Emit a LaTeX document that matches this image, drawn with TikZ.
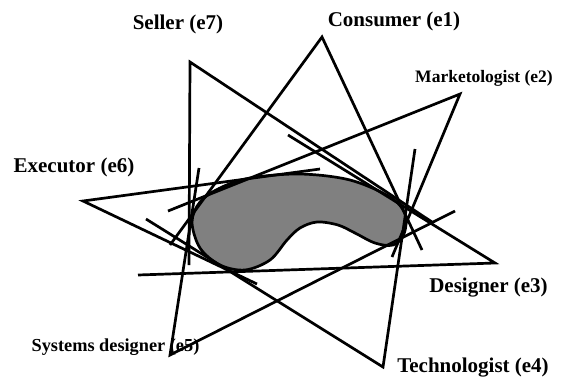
\documentclass[tikz,border=0pt]{standalone}
\usepackage{fontspec}
\setmainfont{Liberation Serif}
\definecolor{blobgray}{HTML}{808080}
\begin{document}
\begin{tikzpicture}[x=1pt,y=-1pt,
  edge/.style={line width=2.7pt, line join=miter},
  blob/.style={line width=2.7pt, fill=blobgray},
  lbl/.style={font=\bfseries\fontsize{21}{24}\selectfont, anchor=base, inner sep=0pt},
  lblsmall/.style={font=\bfseries\fontsize{17.5}{20}\selectfont, anchor=base, inner sep=0pt},
  lblmid/.style={font=\bfseries\fontsize{18.3}{21}\selectfont, anchor=base, inner sep=0pt}]
\useasboundingbox (0,0) rectangle (565,376);

% the problem area
\draw[blob] plot[smooth cycle, tension=0.55] coordinates {
  (192,222) (200,202) (220,188) (250,178) (300,174) (350,180) (390,197)
  (405,214) (404,234) (393,245) (375,243) (355,233) (338,225) (317,222)
  (300,228) (287,240) (270,260) (245,270) (220,265) (200,248)};

% vertices and free ends
\coordinate (e1) at (322,37);  \coordinate (e1a) at (170,245); \coordinate (e1b) at (422,250);
\coordinate (e2) at (460,94);  \coordinate (e2a) at (168,211); \coordinate (e2b) at (392,257);
\coordinate (e3) at (495,263); \coordinate (e3a) at (288,135); \coordinate (e3b) at (138,275);
\coordinate (e4) at (383,367); \coordinate (e4a) at (146,219); \coordinate (e4b) at (415,149);
\coordinate (e5) at (170,355); \coordinate (e5a) at (199,168); \coordinate (e5b) at (455,211);
\coordinate (e6) at (83,201);  \coordinate (e6a) at (320,169); \coordinate (e6b) at (257,284);
\coordinate (e7) at (190,62);  \coordinate (e7a) at (189,265); \coordinate (e7b) at (432,222);

\draw[edge] (e1a) -- (e1) -- (e1b);
\draw[edge] (e2a) -- (e2) -- (e2b);
\draw[edge] (e3a) -- (e3) -- (e3b);
\draw[edge] (e4a) -- (e4) -- (e4b);
\draw[edge] (e5a) -- (e5) -- (e5b);
\draw[edge] (e6a) -- (e6) -- (e6b);
\draw[edge] (e7a) -- (e7) -- (e7b);

% labels
\node[lbl] (l1) at (394,26) {Consumer (e1)};
\node[lblsmall] (l2) at (484,82) {Marketologist (e2)};
\node[lbl] (l3) at (488.5,292) {Designer (e3)};
\node[lbl] (l4) at (473,372) {Technologist (e4)};
\node[lblmid] (l5) at (115.5,351) {Systems designer (e5)};
\node[lbl] (l6) at (74,172) {Executor (e6)};
\node[lbl] (l7) at (178,29) {Seller (e7)};
\end{tikzpicture}
\end{document}
